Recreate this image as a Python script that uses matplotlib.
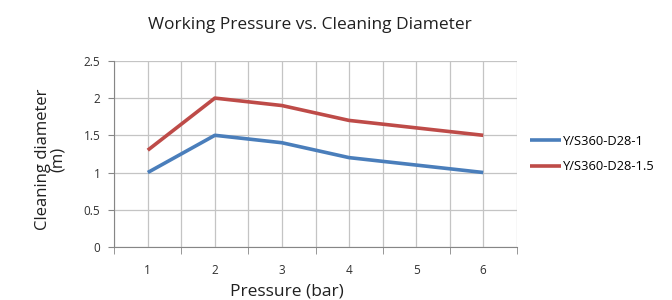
import matplotlib
matplotlib.use("Agg")
import matplotlib.pyplot as plt
import numpy as np

pressure = [1, 2, 3, 4, 5, 6]
d28_1 = [1.0, 1.5, 1.4, 1.2, 1.1, 1.0]
d28_15 = [1.3, 2.0, 1.9, 1.7, 1.6, 1.5]
series_names = ["Y/S360-D28-1", "Y/S360-D28-1.5"]
yticks = [0, 0.5, 1, 1.5, 2, 2.5]

plt.rcParams['font.family'] = ['Open Sans', 'DejaVu Sans']

fig = plt.figure(figsize=(6.72, 3.0), dpi=100)
ax = fig.add_axes([0.170, 0.177, 0.599, 0.620])

l1, = ax.plot(pressure, d28_1, color='#4a7ebb', lw=2.6, solid_capstyle='butt')
l2, = ax.plot(pressure, d28_15, color='#be4b48', lw=2.6, solid_capstyle='butt')

ax.set_xlim(0.5, 6.5)
ax.set_ylim(0, 2.5)
ax.set_xticks(pressure)
ax.set_xticks(np.arange(0.5, 7, 1), minor=True)
ax.set_yticks(yticks)
ax.set_yticklabels(['0', '0.5', '1', '1.5', '2', '2.5'])
ax.grid(True, which='both', color='#c4c4c4', lw=0.9)
ax.set_axisbelow(True)

ax.tick_params(axis='x', which='major', length=0, pad=12, labelsize=8.5, labelcolor='#303030')
ax.tick_params(axis='x', which='minor', length=5, color='#868686', direction='out')
ax.tick_params(axis='y', length=4, color='#868686', direction='out', labelsize=8.5, labelcolor='#303030', pad=6)

for s in ['top', 'right']:
    ax.spines[s].set_visible(False)
for s in ['left', 'bottom']:
    ax.spines[s].set_color('#868686')

fig.text(0.461, 0.917, "Working Pressure vs. Cleaning Diameter", ha='center', va='center', fontsize=12.5, color='#202020')
fig.text(0.427, 0.027, "Pressure (bar)", ha='center', va='center', fontsize=12.5, color='#202020')
fig.text(0.075, 0.47, "Cleaning diameter\n(m)", ha='center', va='center', rotation=90, fontsize=12, color='#202020', linespacing=0.95)

fig.legend([l1, l2], series_names, loc='center left', bbox_to_anchor=(0.772, 0.487),
           frameon=False, fontsize=9.3, handlelength=2.4, handletextpad=0.1, labelspacing=0.95)

fig.savefig("out.png", dpi=100)
